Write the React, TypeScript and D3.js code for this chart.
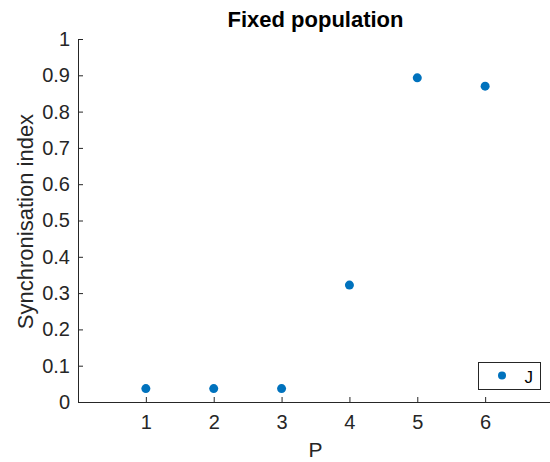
import { useEffect, useRef } from "react"
import * as d3 from "d3"

const pValues = [1, 2, 3, 4, 5, 6]
const syncIndex = [0.037, 0.037, 0.037, 0.322, 0.893, 0.870]
const xTicks = [1, 2, 3, 4, 5, 6]
const yTicks = [0, 0.1, 0.2, 0.3, 0.4, 0.5, 0.6, 0.7, 0.8, 0.9, 1]
const seriesName = "J"

export default function App() {
  const svgRef = useRef<SVGSVGElement>(null)

  useEffect(() => {
    if (!svgRef.current) return
    const svg = d3.select(svgRef.current)
    svg.selectAll("*").remove()

    const font = "'Liberation Sans', Arial, Helvetica, sans-serif"
    const axisColor = "#262626"
    const left = 78
    const right = 553
    const top = 39
    const bottom = 402

    const x = d3.scaleLinear().domain([0, 7]).range([left, right])
    const y = d3.scaleLinear().domain([0, 1]).range([bottom, top])

    // ejes
    const xAxis = d3
      .axisBottom(x)
      .tickValues(xTicks)
      .tickSizeInner(-5)
      .tickSizeOuter(0)
      .tickPadding(13)
      .tickFormat((d) => String(d))
    const yAxis = d3
      .axisLeft(y)
      .tickValues(yTicks)
      .tickSizeInner(-5)
      .tickSizeOuter(0)
      .tickPadding(8)
      .tickFormat((d) => String(+(+d).toFixed(1)))

    const gx = svg.append("g").attr("transform", `translate(0,${bottom})`).call(xAxis)
    const gy = svg.append("g").attr("transform", `translate(${left},0)`).call(yAxis)

    ;[gx, gy].forEach((g) => {
      g.select(".domain").attr("stroke", axisColor).attr("stroke-width", 1)
      g.selectAll(".tick line").attr("stroke", axisColor)
      g.selectAll(".tick text").attr("fill", axisColor).style("font-family", font).style("font-size", "20px")
    })
    gx.selectAll(".tick text").attr("dy", "0.71em")

    // titulo y etiquetas
    svg
      .append("text")
      .attr("x", (left + right) / 2)
      .attr("y", 27)
      .attr("text-anchor", "middle")
      .style("font-family", font)
      .style("font-size", "22px")
      .style("font-weight", "bold")
      .attr("fill", "#000")
      .text("Fixed population")

    svg
      .append("text")
      .attr("x", (left + right) / 2)
      .attr("y", 457)
      .attr("text-anchor", "middle")
      .style("font-family", font)
      .style("font-size", "21px")
      .attr("fill", axisColor)
      .text("P")

    svg
      .append("text")
      .attr("transform", "rotate(-90)")
      .attr("x", -(108 + 335) / 2)
      .attr("y", 33)
      .attr("text-anchor", "middle")
      .style("font-family", font)
      .style("font-size", "22px")
      .attr("fill", axisColor)
      .text("Synchronisation index")

    // puntos
    svg
      .selectAll(".point")
      .data(pValues)
      .enter()
      .append("circle")
      .attr("class", "point")
      .attr("cx", (d) => x(d))
      .attr("cy", (_, i) => y(syncIndex[i]))
      .attr("r", 4.5)
      .attr("fill", "#0072BD")

    // leyenda
    const legend = svg.append("g").attr("transform", "translate(478.5,362.5)")
    legend
      .append("rect")
      .attr("width", 62)
      .attr("height", 27)
      .attr("fill", "#fff")
      .attr("stroke", axisColor)
      .attr("stroke-width", 1)
    legend.append("circle").attr("cx", 23.5).attr("cy", 13).attr("r", 4).attr("fill", "#0072BD")
    legend
      .append("text")
      .attr("x", 46)
      .attr("y", 20)
      .style("font-family", font)
      .style("font-size", "17px")
      .attr("fill", "#000")
      .text(seriesName)
  }, [])

  return (
    <svg
      ref={svgRef}
      width={550}
      height={462}
      style={{ position: "absolute", left: 0, top: 0, background: "#fff" }}
    />
  )
}
